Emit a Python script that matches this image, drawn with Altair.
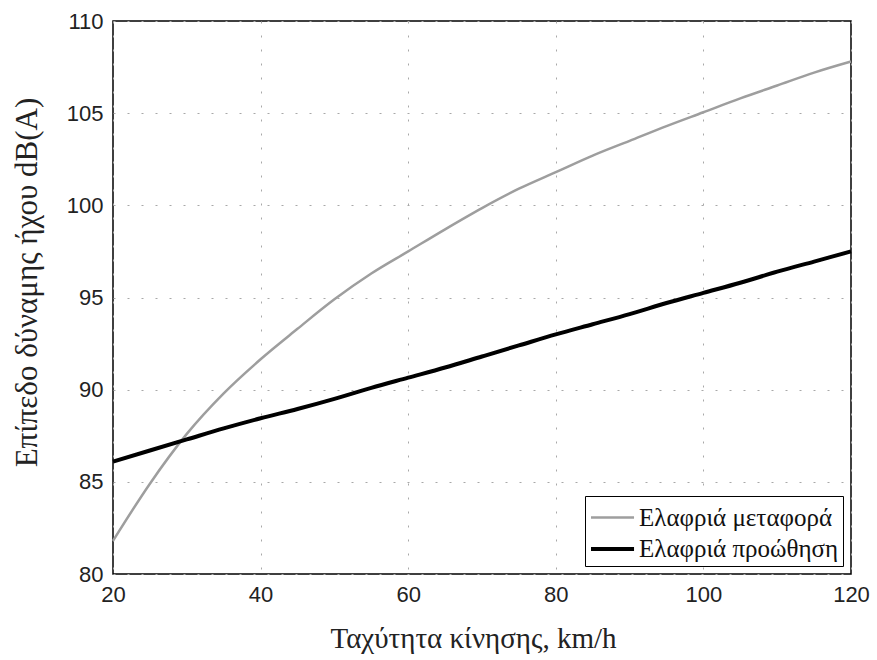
import altair as alt
import pandas as pd

speed = [20, 25, 30, 35, 40, 45, 50, 55, 60, 65, 70, 75, 80, 85, 90, 95, 100, 105, 110, 115, 120]
transport = [81.8, 84.9, 87.6, 89.8, 91.65, 93.3, 94.9, 96.3, 97.5, 98.7, 99.85, 100.9, 101.8,
             102.7, 103.5, 104.3, 105.05, 105.8, 106.5, 107.2, 107.8]
propulsion = [86.1, 86.7, 87.3, 87.9, 88.45, 88.95, 89.5, 90.1, 90.65, 91.2, 91.8, 92.4, 93.0,
              93.55, 94.1, 94.7, 95.25, 95.8, 96.4, 96.95, 97.5]
series_names = ["Ελαφριά μεταφορά", "Ελαφριά προώθηση"]
x_ticks = [20, 40, 60, 80, 100, 120]
y_ticks = [80, 85, 90, 95, 100, 105, 110]

rows = []
for s, t, p in zip(speed, transport, propulsion):
    rows.append({"speed": s, "level": t, "series": series_names[0]})
    rows.append({"speed": s, "level": p, "series": series_names[1]})
df = pd.DataFrame(rows)

leg = alt.Legend(
    title=None, orient="bottom-right", offset=8,
    strokeColor="black", fillColor="white", padding=4,
    symbolType="M-1,0H1.69", symbolSize=1024,
    labelFont="Liberation Serif", labelFontSize=25, labelColor="#111",
    labelOffset=14, rowPadding=0, labelLimit=0,
)

chart = alt.Chart(df).mark_line(interpolate="monotone").encode(
    x=alt.X("speed:Q", scale=alt.Scale(domain=[20, 120], nice=False),
            axis=alt.Axis(values=x_ticks, title="Ταχύτητα κίνησης, km/h",
                          titleX=360, titleY=64, titleBaseline="middle", titleAlign="center",
                          titleFontSize=29)),
    y=alt.Y("level:Q", scale=alt.Scale(domain=[80, 110], nice=False),
            axis=alt.Axis(values=y_ticks, title="Επίπεδο δύναμης ήχου dB(A)",
                          titleX=-86, titleY=261, titleBaseline="middle", titleAngle=270,
                          titleFontSize=31)),
    color=alt.Color("series:N", scale=alt.Scale(domain=series_names, range=["#9e9e9e", "#000000"]),
                    legend=leg),
    strokeWidth=alt.StrokeWidth("series:N", scale=alt.Scale(domain=series_names, range=[2.5, 4]),
                                legend=leg),
).properties(
    width=738, height=553,
    autosize=alt.AutoSizeParams(type="none"),
    padding={"left": 113, "top": 21, "right": 26, "bottom": 86},
).configure_view(
    stroke="black", strokeWidth=1.5
).configure_axis(
    domain=False, ticks=False, labelPadding=10, labelFlush=False,
    labelFont="Liberation Sans", labelFontSize=22, labelColor="#222",
    titleFont="Liberation Serif", titleFontWeight="normal", titleColor="#222",
    grid=True, gridColor="#a8a8a8", gridDash=[2, 12], gridWidth=1,
)

chart.save("out.html", embed_options={"renderer": "svg", "actions": False})
